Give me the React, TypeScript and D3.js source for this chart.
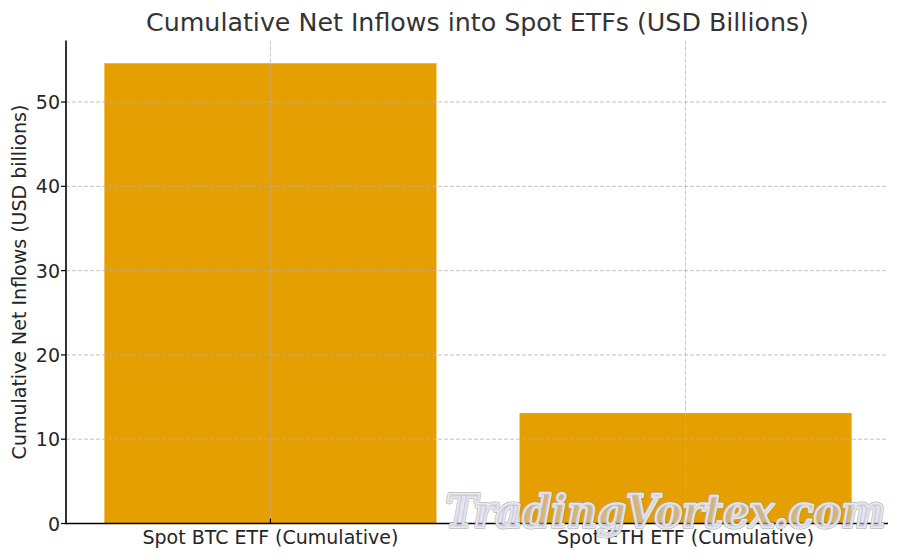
import React from "react";
import * as d3 from "d3";

const categories = ["Spot BTC ETF (Cumulative)", "Spot ETH ETF (Cumulative)"];
const inflows = [54.6, 13.1];
const yTicks = [0, 10, 20, 30, 40, 50];
const titleText = "Cumulative Net Inflows into Spot ETFs (USD Billions)";
const yLabel = "Cumulative Net Inflows (USD billions)";
const watermark = "TradingVortex.com";

const W = 900, H = 559;
const left = 67, right = 889, top = 40.5, bottom = 523.5;
const font = "'DejaVu Sans', sans-serif";
const ink = "#262626";

export default function App() {
  const x = d3.scaleBand<string>().domain(categories).range([left, right]).paddingInner(0.2).paddingOuter(0.09);
  const y = d3.scaleLinear().domain([0, 57.3]).range([bottom, top]);
  const centre = (c: string) => (x(c) as number) + x.bandwidth() / 2;
  const wmProps = {
    x: 665.5, y: 527, textAnchor: "middle" as const, fontFamily: "'DejaVu Serif', serif", fontStyle: "italic",
    fontWeight: "bold", fontSize: 44, textLength: 439, lengthAdjust: "spacingAndGlyphs" as const,
    strokeLinejoin: "round" as const,
  };
  return (
    <svg width={W} height={H} viewBox={`0 0 ${W} ${H}`} style={{ position: "absolute", left: 0, top: 0, background: "#fff" }}>
      <text x={477.5} y={31} textAnchor="middle" fontFamily={font} fontSize={25.3} fill="#333">{titleText}</text>
      {categories.map((c, i) => (
        <rect key={c} x={x(c)} y={y(inflows[i])} width={x.bandwidth()} height={bottom - y(inflows[i])} fill="#E69F00" />
      ))}
      {yTicks.filter(t => t > 0).map(t => (
        <line key={t} x1={left - 1} x2={right - 1} y1={y(t)} y2={y(t)} stroke="#b0b0b0" strokeOpacity={0.75} strokeWidth={1} strokeDasharray="4 2" />
      ))}
      {categories.map(c => (
        <line key={c} x1={centre(c)} x2={centre(c)} y1={top} y2={bottom} stroke="#b0b0b0" strokeOpacity={0.75} strokeWidth={1} strokeDasharray="4 2" />
      ))}
      <line x1={left - 1} x2={left - 1} y1={top} y2={bottom + 0.8} stroke="#000" strokeWidth={1.6} />
      <line x1={left - 1} x2={right - 1} y1={bottom} y2={bottom} stroke="#000" strokeWidth={1.6} />
      {yTicks.map(t => (
        <g key={t}>
          <line x1={left - 6} x2={left - 1} y1={y(t)} y2={y(t)} stroke="#000" strokeWidth={1.2} />
          <text x={left - 7} y={y(t) + 7} textAnchor="end" fontFamily={font} fontSize={19} fill={ink}>{t}</text>
        </g>
      ))}
      {categories.map(c => (
        <g key={c}>
          <line x1={centre(c)} x2={centre(c)} y1={bottom} y2={bottom - 5} stroke="#000" strokeWidth={1.2} />
          <text x={centre(c)} y={544} textAnchor="middle" fontFamily={font} fontSize={19} fill={ink}>{c}</text>
        </g>
      ))}
      <text transform="translate(26,282) rotate(-90)" textAnchor="middle" fontFamily={font} fontSize={19} fill={ink}>{yLabel}</text>
      <text {...wmProps} fill="none" stroke="#9a9a9a" strokeOpacity={0.75} strokeWidth={4}>{watermark}</text>
      <text {...wmProps} fill="#c9cbe6" fillOpacity={0.5} stroke="#f4f4f4" strokeOpacity={0.9} strokeWidth={2.6} paintOrder="stroke">{watermark}</text>
    </svg>
  );
}
